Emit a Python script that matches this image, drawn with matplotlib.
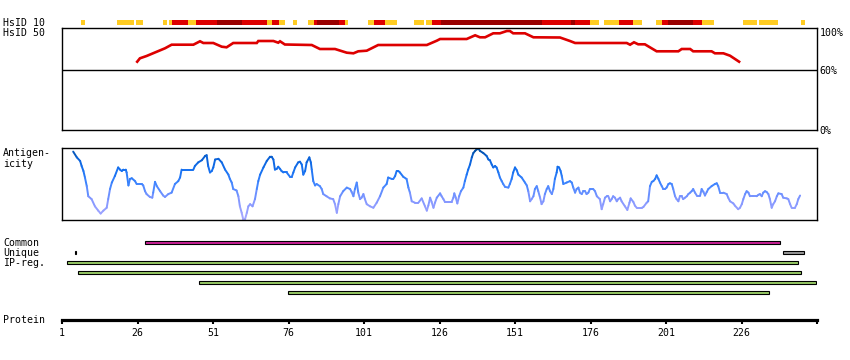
import matplotlib
matplotlib.use("Agg")
import matplotlib.pyplot as plt
import numpy as np
from matplotlib.collections import LineCollection
from matplotlib.colors import LinearSegmentedColormap

# ---------------- data ----------------
protein_len = 251
tick_positions = [1, 26, 51, 76, 101, 126, 151, 176, 201, 226]
tick_labels = ["1", "26", "51", "76", "101", "126", "151", "176", "201", "226"]

# HsID 10 identity bar: segments (start, end, level 0=low,1=mid,2=high)
hsid10_start = [7.3, 19.2, 25.5, 34.4, 36.4, 37.4, 42.8, 45.4, 52.3, 60.6,
                 68.9, 70.5, 72.9, 77.5, 82.5, 84.4, 85.5, 92.7, 94.7, 102.3,
                 104.3, 108.0, 117.6, 121.5, 123.5, 126.5, 159.9, 169.5, 170.9, 175.8,
                 180.5, 185.4, 190.1, 197.7, 199.7, 201.6, 209.9, 212.9, 226.5, 231.8,
                 245.7]
hsid10_end = [8.6, 24.8, 27.8, 35.7, 37.4, 42.8, 45.4, 52.3, 60.6, 68.9,
              70.5, 72.9, 74.8, 78.8, 84.4, 85.5, 92.7, 94.7, 95.7, 104.3,
              108.0, 111.9, 120.9, 123.5, 126.5, 159.9, 169.5, 170.9, 175.8, 178.8,
              185.4, 190.1, 193.1, 199.7, 201.6, 209.9, 212.9, 216.9, 231.1, 238.1,
              247.0]
hsid10_level = [0, 0, 0, 0, 0, 1, 0, 1, 2, 1,
                0, 1, 0, 0, 0, 1, 2, 1, 0, 0,
                1, 0, 0, 0, 1, 2, 1, 2, 1, 0,
                0, 1, 0, 0, 1, 2, 1, 0, 0, 0,
                0]

# HsID 50 identity curve (%)
hsid50_res = [25.9, 26.8, 29.0, 32.4, 35.1, 37.3, 44.5, 46.7, 47.8, 51.1,
              53.9, 55.5, 57.7, 65.5, 66.0, 71.0, 72.6, 73.2, 74.8, 83.7,
              86.4, 91.4, 95.3, 97.5, 99.1, 101.9, 105.7, 121.8, 125.1, 126.2,
              135.0, 137.8, 139.4, 141.1, 143.8, 146.0, 148.3, 149.3, 150.4, 154.3,
              157.1, 165.9, 169.2, 170.9, 188.0, 189.1, 190.4, 191.8, 194.0, 197.9,
              205.1, 206.2, 209.0, 210.0, 216.1, 217.2, 220.0, 222.2, 225.2]
hsid50_pct = [68.3, 71.7, 74.0, 78.3, 81.7, 85.3, 85.3, 88.7, 87.0, 87.0,
              83.3, 82.7, 87.0, 87.0, 89.0, 89.0, 87.3, 88.7, 85.5, 85.0,
              81.0, 81.0, 77.3, 76.7, 78.7, 79.3, 85.0, 85.0, 89.3, 91.0,
              91.0, 94.7, 92.7, 92.7, 96.7, 96.7, 99.0, 99.0, 96.7, 96.7,
              92.7, 92.5, 89.0, 87.0, 87.0, 85.3, 87.7, 85.7, 85.7, 78.7,
              78.7, 81.0, 81.0, 78.7, 78.7, 76.7, 76.7, 74.3, 68.3]

# Antigenicity profile (relative score 0..1)
ant_res = [4.7, 5.9, 7.0, 7.5, 8.1, 8.6, 9.2, 9.7, 10.8, 11.9,
           13.0, 13.8, 14.7, 15.8, 16.3, 16.9, 17.5, 18.5, 19.6, 20.2,
           20.8, 21.3, 22.1, 22.4, 23.0, 23.5, 24.1, 25.2, 25.7, 27.4,
           27.9, 28.5, 29.0, 30.1, 30.9, 31.2, 31.8, 32.4, 33.5, 34.5,
           35.1, 36.2, 37.3, 38.4, 39.5, 40.1, 40.6, 44.5, 45.0, 46.1,
           47.3, 48.4, 48.9, 49.4, 50.0, 50.6, 51.1, 51.7, 52.8, 53.9,
           55.0, 56.1, 56.6, 57.2, 57.7, 58.8, 59.4, 59.9, 60.5, 61.0,
           61.6, 62.2, 62.7, 63.3, 64.1, 64.9, 65.5, 66.0, 66.6, 67.7,
           68.8, 69.9, 70.4, 71.0, 71.5, 72.1, 72.6, 73.2, 73.7, 74.3,
           75.4, 76.5, 77.1, 77.6, 78.2, 79.2, 79.8, 80.4, 80.9, 81.5,
           82.0, 82.9, 83.4, 83.7, 84.2, 84.8, 85.3, 86.4, 87.0, 87.5,
           88.6, 89.7, 90.8, 91.4, 92.0, 92.5, 93.1, 94.1, 95.3, 96.4,
           96.9, 97.5, 98.0, 98.6, 99.1, 99.7, 100.2, 100.8, 101.3, 101.9,
           103.0, 104.1, 105.2, 106.3, 107.4, 108.5, 109.0, 110.2, 110.7, 111.3,
           111.8, 112.4, 112.9, 114.0, 115.1, 115.7, 116.2, 116.8, 117.9, 119.0,
           120.1, 121.2, 121.8, 122.3, 122.9, 123.4, 124.0, 124.5, 125.1, 126.2,
           126.7, 127.3, 127.8, 130.0, 130.6, 130.9, 131.4, 131.9, 132.5, 133.1,
           133.9, 134.4, 135.0, 135.5, 136.1, 136.7, 137.2, 137.8, 138.3, 138.9,
           139.4, 140.5, 141.6, 142.2, 142.7, 143.3, 143.8, 144.4, 144.9, 145.5,
           146.0, 146.6, 147.1, 147.7, 148.8, 149.3, 149.9, 150.4, 151.0, 151.6,
           152.1, 153.2, 154.3, 154.9, 155.4, 156.0, 156.5, 157.1, 157.6, 158.2,
           158.7, 159.3, 159.8, 160.4, 160.9, 161.5, 162.0, 162.6, 163.2, 163.7,
           164.2, 164.8, 165.1, 165.6, 166.1, 166.5, 167.0, 168.1, 169.2, 169.8,
           170.3, 170.9, 171.4, 172.0, 172.5, 173.1, 173.6, 174.2, 174.7, 175.3,
           175.8, 176.9, 177.5, 178.1, 179.1, 179.7, 180.2, 180.8, 181.4, 181.9,
           182.5, 183.0, 183.5, 184.1, 184.7, 185.2, 185.8, 186.3, 187.4, 188.2,
           188.9, 189.3, 190.2, 190.7, 191.3, 193.0, 193.5, 194.6, 195.1, 195.7,
           196.3, 196.8, 197.4, 197.9, 198.5, 199.0, 199.6, 200.1, 200.7, 201.2,
           201.8, 202.3, 202.9, 203.4, 204.0, 204.5, 205.1, 205.6, 206.2, 206.7,
           207.3, 207.9, 208.4, 209.0, 209.5, 210.0, 210.6, 211.2, 212.3, 212.8,
           213.4, 213.9, 214.5, 215.0, 216.1, 217.2, 217.8, 218.3, 218.9, 220.0,
           221.1, 221.6, 222.2, 223.3, 223.8, 224.9, 225.5, 226.1, 226.6, 227.2,
           227.7, 228.3, 228.8, 229.9, 231.0, 231.6, 232.1, 232.7, 233.2, 233.8,
           234.3, 234.9, 235.4, 236.0, 236.5, 237.1, 237.7, 238.2, 239.3, 239.8,
           241.0, 241.5, 242.1, 242.6, 243.7, 244.3, 244.8, 245.4]
ant_val = [0.95, 0.87, 0.82, 0.75, 0.68, 0.59, 0.47, 0.33, 0.29, 0.19,
           0.13, 0.09, 0.13, 0.17, 0.29, 0.43, 0.52, 0.61, 0.73, 0.70,
           0.68, 0.70, 0.70, 0.66, 0.48, 0.57, 0.58, 0.54, 0.50, 0.50,
           0.48, 0.40, 0.36, 0.32, 0.31, 0.38, 0.53, 0.47, 0.40, 0.34,
           0.32, 0.36, 0.38, 0.50, 0.54, 0.59, 0.70, 0.70, 0.75, 0.80,
           0.83, 0.89, 0.90, 0.75, 0.66, 0.68, 0.73, 0.84, 0.85, 0.80,
           0.70, 0.63, 0.57, 0.52, 0.43, 0.41, 0.33, 0.19, 0.10, 0.01,
           0.01, 0.10, 0.19, 0.22, 0.19, 0.29, 0.43, 0.54, 0.63, 0.73,
           0.82, 0.88, 0.88, 0.84, 0.70, 0.71, 0.74, 0.71, 0.68, 0.66,
           0.66, 0.60, 0.60, 0.66, 0.73, 0.80, 0.81, 0.77, 0.63, 0.68,
           0.80, 0.87, 0.80, 0.70, 0.54, 0.48, 0.50, 0.47, 0.43, 0.36,
           0.33, 0.30, 0.29, 0.22, 0.10, 0.22, 0.33, 0.40, 0.45, 0.43,
           0.39, 0.33, 0.43, 0.52, 0.38, 0.29, 0.31, 0.36, 0.29, 0.22,
           0.19, 0.17, 0.24, 0.33, 0.45, 0.50, 0.59, 0.57, 0.57, 0.61,
           0.68, 0.68, 0.66, 0.60, 0.57, 0.45, 0.38, 0.26, 0.24, 0.24,
           0.30, 0.19, 0.13, 0.20, 0.31, 0.25, 0.17, 0.24, 0.31, 0.37,
           0.33, 0.29, 0.25, 0.25, 0.31, 0.37, 0.31, 0.23, 0.33, 0.40,
           0.45, 0.54, 0.63, 0.70, 0.77, 0.87, 0.93, 0.96, 0.98, 0.99,
           0.96, 0.93, 0.89, 0.84, 0.83, 0.77, 0.73, 0.75, 0.73, 0.66,
           0.59, 0.54, 0.50, 0.46, 0.45, 0.50, 0.57, 0.66, 0.73, 0.69,
           0.63, 0.59, 0.52, 0.48, 0.40, 0.26, 0.29, 0.33, 0.43, 0.47,
           0.40, 0.31, 0.22, 0.26, 0.36, 0.43, 0.47, 0.40, 0.36, 0.43,
           0.57, 0.66, 0.74, 0.73, 0.68, 0.61, 0.50, 0.52, 0.54, 0.52,
           0.45, 0.38, 0.43, 0.45, 0.38, 0.36, 0.40, 0.40, 0.36, 0.38,
           0.43, 0.43, 0.40, 0.33, 0.29, 0.15, 0.22, 0.31, 0.33, 0.33,
           0.26, 0.29, 0.33, 0.31, 0.26, 0.29, 0.31, 0.26, 0.19, 0.14,
           0.24, 0.30, 0.25, 0.20, 0.17, 0.17, 0.18, 0.24, 0.26, 0.47,
           0.53, 0.54, 0.57, 0.62, 0.57, 0.52, 0.47, 0.43, 0.43, 0.45,
           0.50, 0.51, 0.50, 0.43, 0.33, 0.29, 0.26, 0.33, 0.33, 0.29,
           0.31, 0.33, 0.36, 0.38, 0.40, 0.43, 0.38, 0.34, 0.34, 0.43,
           0.39, 0.34, 0.39, 0.43, 0.47, 0.50, 0.51, 0.47, 0.38, 0.38,
           0.36, 0.31, 0.26, 0.23, 0.20, 0.15, 0.17, 0.22, 0.29, 0.36,
           0.40, 0.38, 0.33, 0.33, 0.33, 0.35, 0.36, 0.33, 0.38, 0.40,
           0.39, 0.36, 0.29, 0.17, 0.22, 0.26, 0.33, 0.37, 0.36, 0.31,
           0.30, 0.29, 0.22, 0.17, 0.17, 0.22, 0.29, 0.34]

# Region bars (start residue, end residue)
common_start = [28.5]
common_end = [238.7]
unique_start = [5.2, 239.9]
unique_end = [5.7, 246.8]
ipreg_start = [2.5, 6.4, 46.5, 75.7]
ipreg_end = [244.8, 245.8, 250.8, 235.0]

# ---------------- figure ----------------
W, H = 850, 360
fig = plt.figure(figsize=(W / 100, H / 100), dpi=100)
FONT = "DejaVu Sans Mono"
FS = 7.1


def px_axes(x0, y0, x1, y1):
    return fig.add_axes([x0 / W, 1 - y1 / H, (x1 - x0) / W, (y1 - y0) / H])


def label(x, y, s, ha="left"):
    fig.text(x / W, 1 - y / H, s, fontsize=FS, family=FONT, ha=ha, va="baseline")


X0, X1 = 62, 817

# HsID 10 bar
ax10 = px_axes(X0, 20, X1, 25)
lvl_colors = ["#FFCC22", "#DD0000", "#990000"]
for s, e, l in zip(hsid10_start, hsid10_end, hsid10_level):
    ax10.broken_barh([(s, e - s)], (0, 1), facecolors=lvl_colors[l], edgecolor="none")
ax10.set_xlim(1, protein_len)
ax10.set_ylim(0, 1)
ax10.axis("off")

# HsID 50 panel
ax50 = px_axes(X0, 28, X1, 130)
ax50.plot(hsid50_res, hsid50_pct, color="#DD0000", lw=1.9, solid_joinstyle="miter")
ax50.axhline(60, color="black", lw=1.0)
ax50.set_xlim(1, protein_len)
ax50.set_ylim(0, 102)
ax50.set_xticks([])
ax50.set_yticks([])
for sp in ax50.spines.values():
    sp.set_linewidth(1.0)

# Antigenicity panel
axa = px_axes(X0, 148, X1, 220)
cmap = LinearSegmentedColormap.from_list(
    "ant", [(0.0, "#AAAAFF"), (0.3, "#7F95FF"), (0.5, "#3F85FF"),
            (0.7, "#1470F0"), (0.85, "#0B62D8"), (1.0, "#004C99")])
xs = np.array(ant_res)
ys = np.array(ant_val)
pts = np.column_stack([xs, ys]).reshape(-1, 1, 2)
segs = np.concatenate([pts[:-1], pts[1:]], axis=1)
mid = (ys[:-1] + ys[1:]) / 2
lc = LineCollection(segs, colors=cmap(mid), linewidths=1.4, capstyle="round")
axa.add_collection(lc)
axa.set_xlim(1, protein_len)
axa.set_ylim(0, 1)
axa.set_xticks([])
axa.set_yticks([])
for sp in axa.spines.values():
    sp.set_linewidth(1.0)

# Region bars
axb = px_axes(X0, 237.3, X1, 297.3)
bh = 0.34
axb.barh([0] * len(common_start), np.array(common_end) - np.array(common_start),
         left=common_start, height=bh, color="#CC2299", edgecolor="black", lw=0.8)
axb.barh([1] * len(unique_start), np.array(unique_end) - np.array(unique_start),
         left=unique_start, height=bh, color="#999999", edgecolor="black", lw=0.8)
axb.barh([2, 3, 4, 5], np.array(ipreg_end) - np.array(ipreg_start),
         left=ipreg_start, height=bh, color="#99CC66", edgecolor="black", lw=0.8)
axb.set_xlim(1, protein_len)
axb.set_ylim(5.5, -0.5)
axb.axis("off")

# Protein axis
axp = px_axes(X0, 319.5, X1, 319.6)
axp.set_xlim(1, protein_len)
axp.set_ylim(0, 1)
for k in ("top", "left", "right"):
    axp.spines[k].set_visible(False)
axp.spines["bottom"].set_linewidth(2.3)
axp.set_yticks([])
axp.set_xticks(tick_positions + [protein_len])
axp.set_xticklabels(tick_labels + [""])
axp.tick_params(axis="x", direction="out", length=3.2, width=1.5, pad=2.5,
                labelsize=FS)
for t in axp.get_xticklabels():
    t.set_family(FONT)

# Labels
label(3, 25.7, "HsID 10")
label(3, 36, "HsID 50")
label(3, 155.7, "Antigen-")
label(3, 166.7, "icity")
label(3, 246, "Common")
label(3, 256, "Unique")
label(3, 266, "IP-reg.")
label(3, 322.7, "Protein")
label(819.5, 36, "100%")
label(819.5, 73.5, "60%")
label(819.5, 133.5, "0%")

fig.savefig("out.png", dpi=100)
